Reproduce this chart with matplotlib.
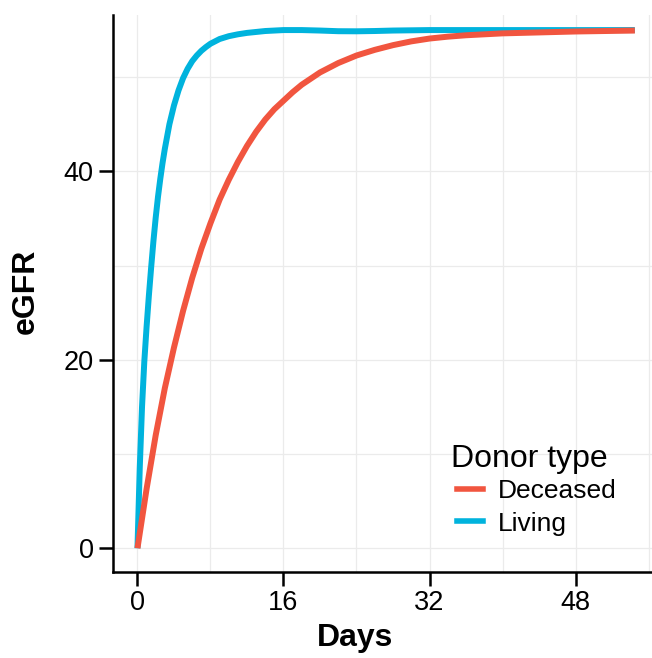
import matplotlib
matplotlib.use("Agg")
import matplotlib.pyplot as plt
from matplotlib.lines import Line2D

plt.rcParams['font.family'] = ['Liberation Sans', 'DejaVu Sans']

# Data
days_living = [0, 0.25, 0.5, 0.75, 1.0, 1.25, 1.5, 1.75, 2.0, 2.25, 2.5, 2.75, 3.0, 3.5,
               4.0, 4.5, 5.0, 5.5, 6.0, 6.5, 7.0, 7.5, 8.0, 9.0, 10, 11, 12, 14, 16, 18,
               20, 22, 24, 26, 28, 32, 40, 48, 54.5]
egfr_living = [0, 8.5, 15, 19.8, 23.5, 26.8, 29.8, 32.6, 35.1, 37.3, 39.2, 40.9, 42.4, 45.0,
               47.0, 48.6, 49.9, 50.9, 51.7, 52.3, 52.8, 53.2, 53.55, 54.05, 54.35, 54.55,
               54.7, 54.9, 55.0, 55.0, 54.95, 54.88, 54.87, 54.9, 54.95, 55.0, 55.0, 55.0, 55.0]

days_deceased = [0, 1, 2, 3, 4, 5, 6, 7, 8, 9, 10, 11, 12, 13, 14, 15, 16, 17, 18, 20, 22,
                 24, 26, 28, 30, 32, 34, 36, 40, 44, 48, 54.5]
egfr_deceased = [0, 6.3, 12, 17, 21.3, 25.2, 28.7, 31.8, 34.5, 37, 39.1, 41, 42.7, 44.2,
                 45.5, 46.6, 47.5, 48.4, 49.2, 50.5, 51.5, 52.3, 52.9, 53.4, 53.8, 54.1,
                 54.3, 54.45, 54.65, 54.75, 54.85, 54.95]

series_labels = ["Deceased", "Living"]
legend_title = "Donor type"
x_ticks = [0, 16, 32, 48]
y_ticks = [0, 20, 40]
x_grid = [0, 8, 16, 24, 32, 40, 48, 56]
y_grid = [0, 10, 20, 30, 40, 50]

col_deceased = '#F1553F'
col_living = '#00B3DD'

W, H = 652, 658
fig = plt.figure(figsize=(W / 100, H / 100), dpi=100)
ax = fig.add_axes([113 / W, 1 - 572 / H, 1 - 113 / W, (572 - 15) / H])

ax.set_xlim(-2.68, 56.38)
ax.set_ylim(-2.52, 56.6)

for g in x_grid:
    ax.axvline(g, color='#EBEBEB', lw=0.9, zorder=0)
for g in y_grid:
    ax.axhline(g, color='#EBEBEB', lw=0.9, zorder=0)

ax.plot(days_living, egfr_living, color=col_living, lw=4.3, solid_capstyle='butt',
        solid_joinstyle='round', zorder=2)
ax.plot(days_deceased, egfr_deceased, color=col_deceased, lw=4.3, solid_capstyle='butt',
        solid_joinstyle='round', zorder=3)

ax.set_xticks(x_ticks)
ax.set_yticks(y_ticks)
ax.tick_params(axis='both', which='major', length=10, width=1.8, labelsize=19.5, color='black')
ax.tick_params(axis='x', pad=3)
ax.tick_params(axis='y', pad=4)

for s in ['top', 'right']:
    ax.spines[s].set_visible(False)
for s in ['left', 'bottom']:
    ax.spines[s].set_linewidth(1.8)
    ax.spines[s].set_color('black')

ax.set_xlabel("Days", fontsize=23, fontweight='bold')
ax.set_ylabel("eGFR", fontsize=23, fontweight='bold')
ax.xaxis.set_label_coords((355 - 113) / (W - 113), -(638 - 572) / (572 - 15), transform=ax.transAxes)
ax.yaxis.set_label_coords(-(113 - 26) / (W - 113), (572 - 291) / (572 - 15), transform=ax.transAxes)
ax.xaxis.label.set_va('center')
ax.yaxis.label.set_va('center')

handles = [Line2D([0], [0], color=col_deceased, lw=4),
           Line2D([0], [0], color=col_living, lw=4)]
leg = ax.legend(handles, series_labels, frameon=False,
                loc='center left', bbox_to_anchor=(456.5 / W, 1 - 507.5 / H),
                bbox_transform=fig.transFigure, fontsize=19,
                handlelength=1.01, handletextpad=0.55, labelspacing=0.31,
                borderpad=0, borderaxespad=0)
fig.text(451 / W, 1 - 466.5 / H, legend_title, fontsize=23, ha='left', va='baseline')

fig.savefig("out.png", dpi=100)
